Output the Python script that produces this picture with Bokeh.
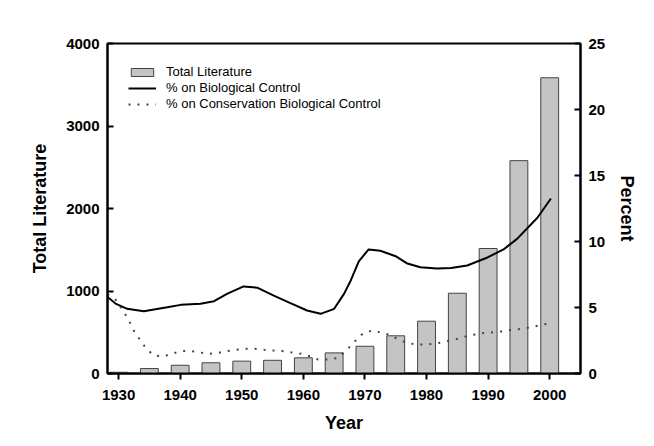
from bokeh.plotting import figure
from bokeh.models import Range1d, LinearAxis, FixedTicker, Legend, LegendItem
from bokeh.embed import file_html
from bokeh.resources import INLINE

# Total literature (bars, left axis)
bar_years = [1930, 1935, 1940, 1945, 1950, 1955, 1960, 1965, 1970, 1975, 1980, 1985, 1990, 1995, 2000]
bar_totals = [15, 60, 100, 130, 150, 160, 190, 250, 330, 457, 634, 973, 1515, 2580, 3585]

# % on Biological Control (solid line, right axis)
bio_years = [1928.2, 1929.5, 1931.4, 1934.1, 1937.9, 1940.1, 1943.3, 1945.5, 1947.6, 1950.3,
             1952.5, 1955.2, 1957.9, 1960.6, 1962.8, 1965.0, 1966.6, 1967.7, 1969.0, 1970.6,
             1972.5, 1975.1, 1976.9, 1979.0, 1981.7, 1984.0, 1986.6, 1989.9, 1992.5, 1994.7,
             1998.0, 2000.2]
bio_pct = [5.8, 5.3, 4.9, 4.72, 5.02, 5.2, 5.28, 5.48, 6.03, 6.6,
           6.5, 5.9, 5.33, 4.77, 4.52, 4.9, 6.03, 7.05, 8.5, 9.4,
           9.3, 8.86, 8.33, 8.05, 7.95, 8.0, 8.18, 8.79, 9.4, 10.2,
           11.8, 13.26]

# % on Conservation Biological Control (dotted line, right axis)
cons_years = [1928.2, 1929.5, 1930.8, 1931.7, 1932.4, 1933.4, 1934.4, 1935.7, 1937.3, 1938.7,
              1940.2, 1941.7, 1943.1, 1944.7, 1946.0, 1947.7, 1949.1, 1950.6, 1952.1, 1953.6,
              1955.1, 1956.6, 1958.0, 1959.6, 1961.1, 1962.4, 1964.0, 1965.4, 1966.9, 1968.3,
              1969.7, 1971.2, 1972.7, 1974.2, 1975.5, 1977.0, 1978.5, 1980.0, 1981.5, 1982.9,
              1984.4, 1985.9, 1987.3, 1988.8, 1990.2, 1991.7, 1993.1, 1994.6, 1996.0, 1997.5,
              1998.8, 2000.2]
cons_pct = [6.0, 5.6, 4.7, 4.0, 3.3, 2.6, 1.95, 1.36, 1.3, 1.5,
            1.7, 1.7, 1.6, 1.5, 1.55, 1.7, 1.8, 1.87, 1.87, 1.8,
            1.74, 1.7, 1.6, 1.5, 1.3, 1.06, 1.06, 1.16, 1.7, 2.4,
            3.05, 3.26, 3.1, 2.9, 2.55, 2.3, 2.2, 2.2, 2.27, 2.4,
            2.55, 2.75, 2.9, 3.05, 3.1, 3.15, 3.26, 3.33, 3.43, 3.55,
            3.7, 3.8]

x_ticks = [1930, 1940, 1950, 1960, 1970, 1980, 1990, 2000]
left_ticks = [0, 1000, 2000, 3000, 4000]
right_ticks = [0, 5, 10, 15, 20, 25]

FONT = "Liberation Sans"

p = figure(width=646, height=438, output_backend="svg", toolbar_location=None,
           x_range=Range1d(1928.2, 2005), y_range=Range1d(0, 4000),
           min_border_left=107, min_border_right=66, min_border_top=43, min_border_bottom=65)
p.extra_y_ranges = {"pct": Range1d(0, 25)}
p.xgrid.visible = False
p.ygrid.visible = False
p.outline_line_color = "black"
p.outline_line_width = 2
p.background_fill_color = "white"
p.border_fill_color = "white"

bars = p.vbar(x=bar_years, top=bar_totals, width=2.9, fill_color="#c4c4c4",
              line_color="#444444", line_width=1)
bio = p.line(bio_years, bio_pct, y_range_name="pct", line_color="black", line_width=2)
cons = p.line(cons_years, cons_pct, y_range_name="pct", line_color="#444444",
              line_width=2, line_dash="2 7")

def style_axis(ax, label_size="18px"):
    ax.axis_line_color = "black"
    ax.axis_line_width = 2
    ax.major_tick_line_color = "black"
    ax.major_tick_line_width = 2
    ax.minor_tick_line_color = None
    ax.major_label_text_font = FONT
    ax.major_label_text_font_style = "bold"
    ax.major_label_text_font_size = "15px"
    ax.major_label_text_color = "black"
    ax.axis_label_text_font = FONT
    ax.axis_label_text_font_style = "bold"
    ax.axis_label_text_font_size = label_size
    ax.axis_label_text_color = "black"

xa = p.xaxis[0]
style_axis(xa)
xa.ticker = FixedTicker(ticks=x_ticks)
xa.major_tick_in = 0
xa.major_tick_out = 6
xa.major_label_standoff = 10
xa.axis_label = "Year"
xa.axis_label_standoff = 10

ya = p.yaxis[0]
style_axis(ya)
ya.ticker = FixedTicker(ticks=left_ticks)
ya.major_tick_in = 6
ya.major_tick_out = 0
ya.major_label_standoff = 8
ya.axis_label = "Total Literature"
ya.axis_label_standoff = 13

ra = LinearAxis(y_range_name="pct")
style_axis(ra)
ra.ticker = FixedTicker(ticks=right_ticks)
ra.major_tick_in = 6
ra.major_tick_out = 0
ra.major_label_standoff = 8
ra.axis_label = "Percent"
ra.axis_label_standoff = 9
p.add_layout(ra, "right")

legend = Legend(items=[
    LegendItem(label="Total Literature", renderers=[bars]),
    LegendItem(label="% on Biological Control", renderers=[bio]),
    LegendItem(label="% on Conservation Biological Control", renderers=[cons]),
], location=(21, 262))
legend.background_fill_alpha = 0
legend.border_line_color = None
legend.label_text_font = FONT
legend.label_text_font_size = "13px"
legend.label_text_color = "black"
legend.label_height = 14
legend.glyph_height = 10
legend.glyph_width = 28
legend.label_standoff = 10
legend.spacing = 1
legend.padding = 3
legend.margin = 0
p.add_layout(legend, "center")

open("out.html", "w").write(file_html(p, INLINE))
